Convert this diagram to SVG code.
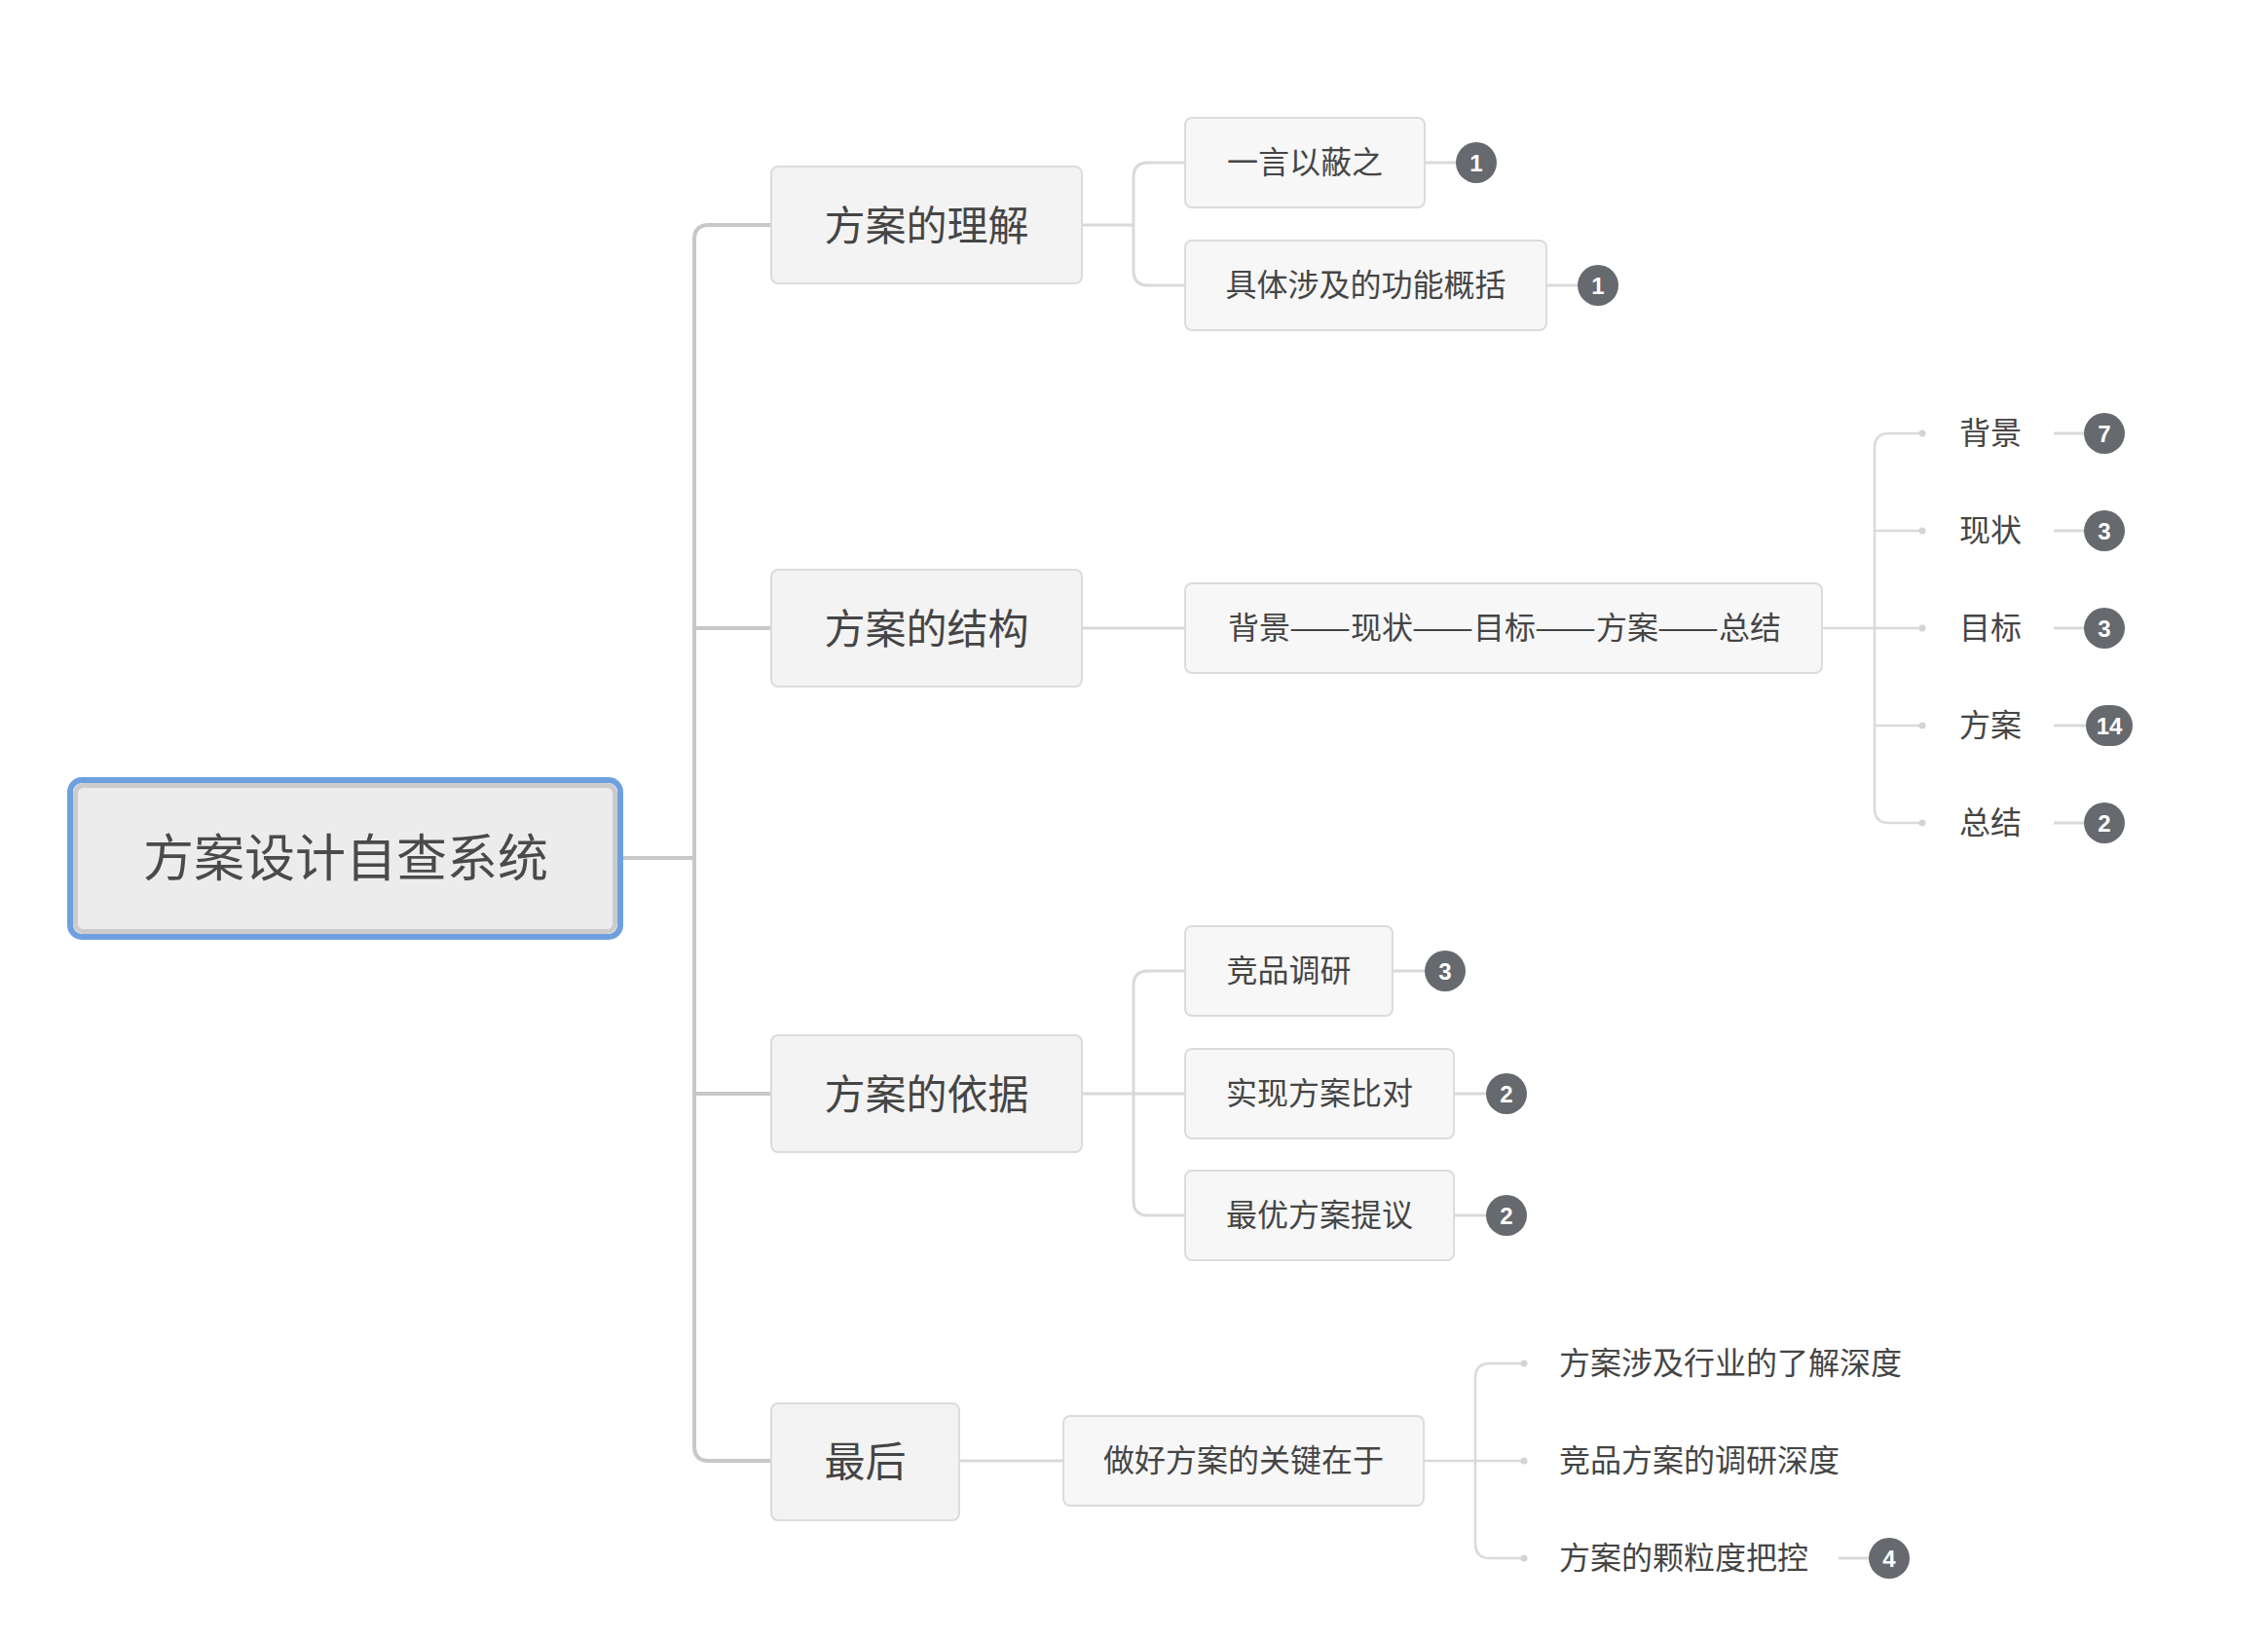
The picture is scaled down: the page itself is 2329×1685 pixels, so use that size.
<svg xmlns="http://www.w3.org/2000/svg" width="2329" height="1685" viewBox="0 0 2329 1685">
<style>
.t{font-family:"Noto Sans CJK SC","Microsoft YaHei",sans-serif;fill:#454545;dominant-baseline:central}
.root{font-size:52px;text-anchor:middle;fill:#4a4a4a}
.l1{font-size:42px;text-anchor:middle}
.l2{font-size:32px;text-anchor:middle}
.l3{font-size:32px}
.b1{fill:#f3f3f3;stroke:#dcdcdc;stroke-width:2}
.b2{fill:#f7f7f7;stroke:#dcdcdc;stroke-width:2}
.c0{fill:none;stroke:#c8c8c8;stroke-width:4}
.c1{fill:none;stroke:#d9d9d9;stroke-width:3}
.c2{fill:none;stroke:#dadada;stroke-width:2.5}
.dot{fill:#d4d4d4}
.bg{fill:#66696d}
.bt{font-family:"Liberation Sans",Arial,sans-serif;font-weight:bold;font-size:24px;fill:#fff;text-anchor:middle;dominant-baseline:central}
</style>
<rect width="2329" height="1685" fill="#ffffff"/>
<g id="connectors">
<path class="c0" d="M640 881 H713 M792 231 H728 Q713 231 713 246 V1485 Q713 1500 728 1500 H792 M713 645 H792 M713 1123 H792"/>
<path class="c1" d="M1111 231 H1164 M1217 167 H1179 Q1164 167 1164 182 V278 Q1164 293 1179 293 H1217"/>
<path class="c1" d="M1111 645 H1217"/>
<path class="c1" d="M1111 1123 H1217 M1217 997 H1179 Q1164 997 1164 1012 V1233 Q1164 1248 1179 1248 H1217"/>
<path class="c1" d="M985 1500 H1092"/>
<path class="c2" d="M1871 645 H1974 M1974 445 H1940 Q1925 445 1925 460 V830 Q1925 845 1940 845 H1974 M1925 545 H1974 M1925 745 H1974"/>
<path class="c2" d="M1462 1500 H1565 M1565 1400 H1530 Q1515 1400 1515 1415 V1585 Q1515 1600 1530 1600 H1565"/>
<g class="dot">
<circle cx="1974" cy="445" r="3.5"/><circle cx="1974" cy="545" r="3.5"/><circle cx="1974" cy="645" r="3.5"/><circle cx="1974" cy="745" r="3.5"/><circle cx="1974" cy="845" r="3.5"/>
<circle cx="1565" cy="1400" r="3.5"/><circle cx="1565" cy="1500" r="3.5"/><circle cx="1565" cy="1600" r="3.5"/>
</g>
<path class="c1" d="M1463 167 H1495 M1588 293 H1620 M1430 997 H1463 M1493 1123 H1526 M1493 1248 H1526 M2109 445 H2141 M2109 545 H2141 M2109 645 H2141 M2109 745 H2142 M2109 845 H2141 M1888 1600 H1919"/>
</g>
<g id="root">
<rect x="72" y="801" width="565" height="161" rx="12" fill="none" stroke="#6ea0e0" stroke-width="6"/>
<rect x="77.5" y="806.5" width="554" height="150" rx="8" fill="#ececec" stroke="#cccccc" stroke-width="5"/>
<text class="t root" x="355" y="877">方案设计自查系统</text>
</g>
<g id="n-lijie"><rect class="b1" x="792" y="171" width="319" height="120" rx="7"/><text class="t l1" x="951.5" y="228">方案的理解</text></g>
<g id="n-jiegou"><rect class="b1" x="792" y="585" width="319" height="120" rx="7"/><text class="t l1" x="951.5" y="642">方案的结构</text></g>
<g id="n-yiju"><rect class="b1" x="792" y="1063" width="319" height="120" rx="7"/><text class="t l1" x="951.5" y="1120">方案的依据</text></g>
<g id="n-zuihou"><rect class="b1" x="792" y="1441" width="193" height="120" rx="7"/><text class="t l1" x="888.5" y="1497">最后</text></g>
<g id="n-yiyan"><rect class="b2" x="1217" y="121" width="246" height="92" rx="7"/><text class="t l2" x="1340" y="164">一言以蔽之</text>
<circle class="bg" cx="1516" cy="167" r="21"/><text class="bt" x="1516" y="167">1</text></g>
<g id="n-juti"><rect class="b2" x="1217" y="247" width="371" height="92" rx="7"/><text class="t l2" x="1402.5" y="290">具体涉及的功能概括</text>
<circle class="bg" cx="1641" cy="293" r="21"/><text class="bt" x="1641" y="293">1</text></g>
<g id="n-chain"><rect class="b2" x="1217" y="599" width="654" height="92" rx="7"/><text class="t l3" y="642"><tspan x="1261">背景</tspan><tspan x="1324" textLength="63" lengthAdjust="spacingAndGlyphs">——</tspan><tspan x="1387">现状</tspan><tspan x="1450" textLength="63" lengthAdjust="spacingAndGlyphs">——</tspan><tspan x="1513">目标</tspan><tspan x="1576" textLength="63" lengthAdjust="spacingAndGlyphs">——</tspan><tspan x="1639">方案</tspan><tspan x="1702" textLength="63" lengthAdjust="spacingAndGlyphs">——</tspan><tspan x="1765">总结</tspan></text></g>
<g id="n-beijing"><text class="t l3" x="2012" y="442">背景</text><circle class="bg" cx="2161" cy="445" r="21"/><text class="bt" x="2161" y="445">7</text></g>
<g id="n-xianzhuang"><text class="t l3" x="2012" y="542">现状</text><circle class="bg" cx="2161" cy="545" r="21"/><text class="bt" x="2161" y="545">3</text></g>
<g id="n-mubiao"><text class="t l3" x="2012" y="642">目标</text><circle class="bg" cx="2161" cy="645" r="21"/><text class="bt" x="2161" y="645">3</text></g>
<g id="n-fangan"><text class="t l3" x="2012" y="742">方案</text><rect class="bg" x="2142" y="724" width="48" height="42" rx="21"/><text class="bt" x="2166" y="745">14</text></g>
<g id="n-zongjie"><text class="t l3" x="2012" y="842">总结</text><circle class="bg" cx="2161" cy="845" r="21"/><text class="bt" x="2161" y="845">2</text></g>
<g id="n-jingpin"><rect class="b2" x="1217" y="951" width="213" height="92" rx="7"/><text class="t l2" x="1323.5" y="994">竞品调研</text>
<circle class="bg" cx="1484" cy="997" r="21"/><text class="bt" x="1484" y="997">3</text></g>
<g id="n-shixian"><rect class="b2" x="1217" y="1077" width="276" height="92" rx="7"/><text class="t l2" x="1355" y="1120">实现方案比对</text>
<circle class="bg" cx="1547" cy="1123" r="21"/><text class="bt" x="1547" y="1123">2</text></g>
<g id="n-zuiyou"><rect class="b2" x="1217" y="1202" width="276" height="92" rx="7"/><text class="t l2" x="1355" y="1245">最优方案提议</text>
<circle class="bg" cx="1547" cy="1248" r="21"/><text class="bt" x="1547" y="1248">2</text></g>
<g id="n-guanjian"><rect class="b2" x="1092" y="1454" width="370" height="92" rx="7"/><text class="t l2" x="1277" y="1497">做好方案的关键在于</text></g>
<g id="n-hangye"><text class="t l3" x="1601" y="1397">方案涉及行业的了解深度</text></g>
<g id="n-diaoyan"><text class="t l3" x="1601" y="1497">竞品方案的调研深度</text></g>
<g id="n-keli"><text class="t l3" x="1601" y="1597">方案的颗粒度把控</text><circle class="bg" cx="1940" cy="1600" r="21"/><text class="bt" x="1940" y="1600">4</text></g>
</svg>
